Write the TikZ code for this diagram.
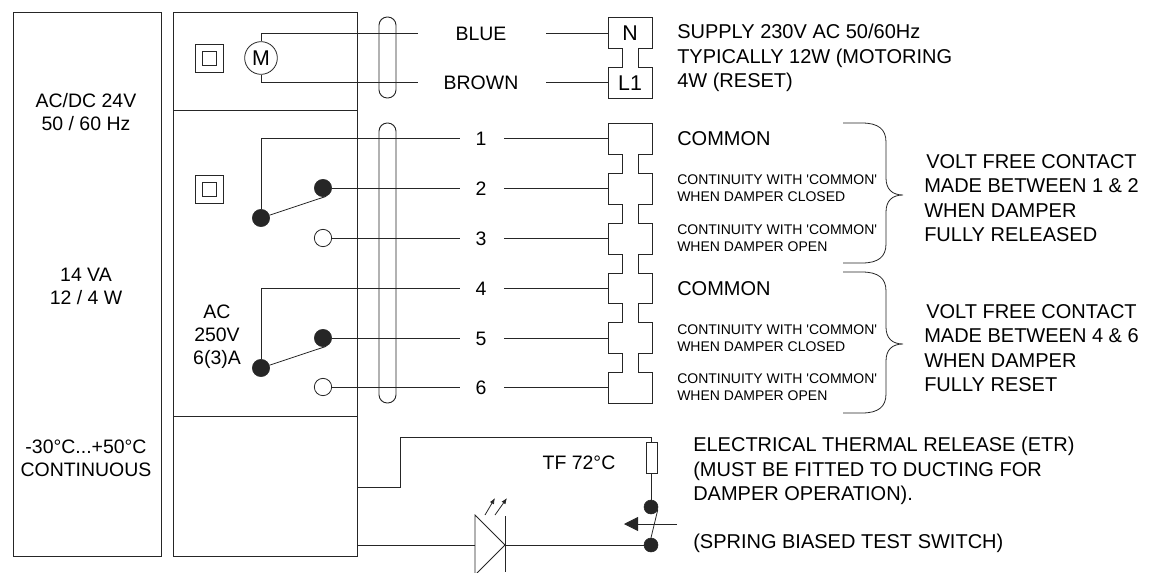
\documentclass[tikz,border=0pt]{standalone}
\usepackage{fontspec}
\usepackage{tikz}
\usetikzlibrary{positioning}
\usetikzlibrary{calc}
\usetikzlibrary{arrows.meta}
\setmainfont{Liberation Sans}
\newfontfamily\plainfont{Liberation Sans}
\tikzset{
  wire/.style={draw=black!85,line width=0.6pt},
  lab/.style={font=\fontsize{14.6}{17.4}\selectfont,inner sep=0pt,yshift=-0.75pt},
  note/.style={font=\fontsize{15}{18.2}\selectfont,inner sep=0pt,align=left,anchor=west,yshift=-0.75pt},
  tiny/.style={font=\plainfont\fontsize{10.5}{12.75}\selectfont,inner sep=0pt,align=left,anchor=west},
  solid dot/.style={circle,fill=black!85,draw=black!85,minimum size=13pt,inner sep=0pt},
  small dot/.style={circle,fill=black!85,draw=black!85,minimum size=10.5pt,inner sep=0pt},
  open dot/.style={circle,fill=white,draw=black!85,line width=0.6pt,minimum size=13pt,inner sep=0pt},
  cable/.style={draw=black!85,line width=0.7pt,rounded corners=6.2pt}
}
\newcommand{\sqsym}[2]{
  \draw[wire] (#1-14,#2-14) rectangle (#1+14,#2+14);
  \draw[wire] (#1-7,#2-7) rectangle (#1+7,#2+7);
}
\newcommand{\bracesym}[3]{
  \draw[wire] (843,#1) -- (862,#1) .. controls (878,#1) and (886,#1+6) .. (886,#1+19)
    -- (886,#2-17) .. controls (886,#2-6) and (892,#2) .. (903,#2)
    .. controls (892,#2) and (886,#2+6) .. (886,#2+17)
    -- (886,#3-19) .. controls (886,#3-6) and (878,#3) .. (862,#3) -- (843,#3);
}
\begin{document}
\begin{tikzpicture}[x=0.75pt,y=-0.75pt]
  \useasboundingbox (0,0) rectangle (1157,572);
  % housings
  \draw[wire] (13,12) rectangle (161,556);
  \draw[wire] (173,12) rectangle (357,556);
  \draw[wire] (173,110) -- (357,110);
  \draw[wire] (173,416) -- (357,416);
  \node[lab,align=center] (rating) at (86,111) {AC/DC 24V\\50 / 60 Hz};
  \node[lab,align=center] (power) at (86,285) {14 VA\\12 / 4 W};
  \node[lab,align=center] (temp) at (86,457) {-30°C...+50°C\\CONTINUOUS};
  \node[lab,align=center] (acrate) at (217,336) {AC\\250V\\6(3)A};
  \sqsym{209}{58}
  \sqsym{209}{189}
  % motor
  \node[circle,draw=black!85,line width=0.6pt,minimum size=24.5pt,inner sep=0pt,font=\fontsize{16}{16}\selectfont] (motor) at (261,58) {M};
  \coordinate (blueend) at (418,33);
  \coordinate (brownend) at (418,82);
  \draw[wire] (motor.north) |- (blueend);
  \draw[wire] (motor.south) |- (brownend);
  % contacts
  \node[solid dot] (c1) at (261,218) {};
  \node[solid dot] (c2) at (323,188) {};
  \node[open dot] (c3) at (323,238) {};
  \node[solid dot] (c4) at (261,368) {};
  \node[solid dot] (c5) at (323,338) {};
  \node[open dot] (c6) at (323,387) {};
  \foreach \n/\y in {1/138,2/188,3/238,4/288,5/338,6/387}{
    \coordinate (w\n) at (460,\y);
    \node[lab] (num\n) at (481,\y) {\n};
    \coordinate (t\n) at (608,\y);
    \draw[wire] (504,\y) -- (t\n);
  }
  \draw[wire] (c1) |- (w1);
  \draw[wire] (c4) |- (w4);
  \draw[wire] (c2) -- (w2);
  \draw[wire] (c3) -- (w3);
  \draw[wire] (c5) -- (w5);
  \draw[wire] (c6) -- (w6);
  \draw[wire] (c1) -- (c2.290);
  \draw[wire] (c4) -- (c5.290);
  % cable loops
  \draw[cable] (379,57) -- (379,17) -- (396,17) -- (396,98) -- (379,98) -- cycle;
  \draw[cable] (379,260) -- (379,123) -- (396,123) -- (396,403) -- (379,403) -- cycle;
  % supply
  \node[lab] (blue) at (481,33) {BLUE};
  \node[lab] (brown) at (481,82) {BROWN};
  \coordinate (n in) at (608,33);
  \coordinate (l in) at (608,82);
  \draw[wire] (546,33) -- (n in);
  \draw[wire] (546,82) -- (l in);
  \draw[wire] (608,17) -- (652,17) -- (652,48) -- (638.5,48) -- (638.5,67) -- (652,67) -- (652,98) -- (608,98) -- (608,67) -- (622,67) -- (622,48) -- (608,48) -- cycle;
  \node[font=\fontsize{16}{16}\selectfont,inner sep=0pt] (nlab) at (630,33) {N};
  \node[font=\fontsize{16}{16}\selectfont,inner sep=0pt] (llab) at (630,83) {L1};
  % terminal strip
  \draw[wire] (608,123) -- (652,123)
    \foreach \y in {154,204,254,303,353}{ -- (652,\y) -- (638.5,\y) -- (638.5,\y+19) -- (652,\y+19)}
    -- (652,403) -- (608,403)
    \foreach \y in {353,303,254,204,154}{ -- (608,\y+19) -- (622,\y+19) -- (622,\y) -- (608,\y)}
    -- cycle;
  % notes
  \node[note] (supply) at (677,57) {SUPPLY 230V AC 50/60Hz\\TYPICALLY 12W (MOTORING\\4W (RESET)};
  \node[note] (com1) at (677,138) {COMMON};
  \node[note] (com2) at (677,288) {COMMON};
  \foreach \y/\t in {188/CLOSED,238/OPEN,338/CLOSED,387/OPEN}{
    \node[tiny] (cont\y) at (677,\y) {CONTINUITY WITH 'COMMON'\\WHEN DAMPER \t};
  }
  \bracesym{123}{195}{263}
  \bracesym{272}{344}{413}
  \node[note] (volt1) at (924,197) {\hspace*{1.5pt}VOLT FREE CONTACT\\MADE BETWEEN 1 \& 2\\WHEN DAMPER\\FULLY RELEASED};
  \node[note] (volt2) at (924,347) {\hspace*{1.5pt}VOLT FREE CONTACT\\MADE BETWEEN 4 \& 6\\WHEN DAMPER\\FULLY RESET};
  % etr
  \node[lab] (tf) at (579,462) {TF 72°C};
  \node[note] (etr) at (693,470) {ELECTRICAL THERMAL RELEASE (ETR)\\(MUST BE FITTED TO DUCTING FOR\\DAMPER OPERATION).};
  \node[note] (spring) at (693,542) {(SPRING BIASED TEST SWITCH)};
  \node[small dot] (s1) at (651,507) {};
  \node[small dot] (s2) at (651,545) {};
  \coordinate (hot) at (357,487);
  \coordinate (led) at (357,545);
  \draw[wire] (hot) -- (400,487) -- (400,437) -- (651,437) -- (s1);
  \draw[wire,fill=white] (646,442) rectangle (657,473);
  \draw[wire] (s1.-20) -- (s2.north);
  \draw[wire] (led) -- (475,545);
  \draw[wire] (505,545) -- (s2);
  \draw[wire] (475,515) -- (505,545) -- (475,575) -- cycle;
  \draw[wire] (505,516) -- (505,572);
  \draw[wire,-{Triangle[length=10.5pt,width=10.5pt]}] (677,524) -- (624,524);
  \draw[wire,-{Latex[length=4.5pt,width=3.5pt]}] (485,515) -- (495,498);
  \draw[wire,-{Latex[length=4.5pt,width=3.5pt]}] (495,515) -- (507,498);
\end{tikzpicture}
\end{document}
